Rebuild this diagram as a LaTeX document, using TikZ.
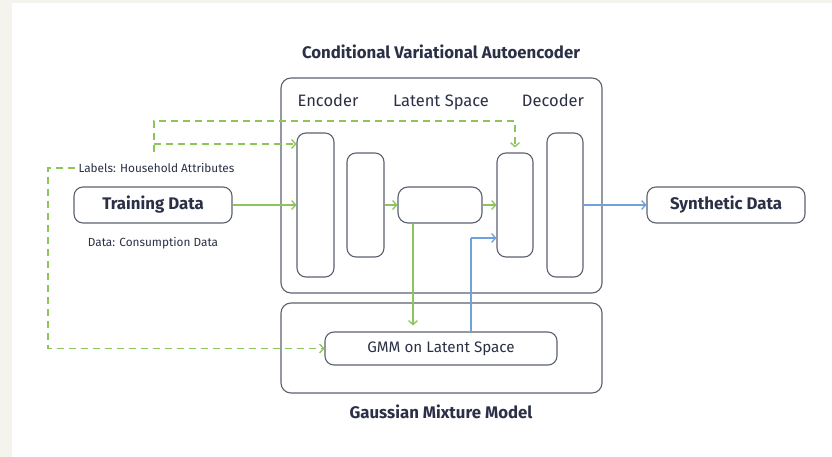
\documentclass[tikz,border=0pt]{standalone}
\usepackage{fontspec}
\setmainfont{Fira Sans}
\usetikzlibrary{arrows.meta}
\definecolor{pagegray}{HTML}{F4F3EE}
\definecolor{ink}{HTML}{2B3046}
\definecolor{frame}{HTML}{5C6170}
\definecolor{leaf}{HTML}{8CC55A}
\definecolor{sky}{HTML}{6FA2DC}
\tikzset{
  x=1pt, y=-1pt,
  panel/.style={draw=frame, line width=1.1pt, rounded corners=10pt},
  block/.style={draw=frame, line width=1.1pt, rounded corners=9pt, fill=white, inner sep=0pt},
  databox/.style={block, minimum width=158pt, minimum height=36pt, font=\fontsize{16.8}{20}\selectfont\bfseries, text=ink},
  caption/.style={font=\fontsize{11.8}{14}\selectfont, text=ink},
  heading/.style={font=\fontsize{16.8}{20}\selectfont\bfseries, text=ink},
  stage/.style={font=\fontsize{16.5}{20}\selectfont, text=ink, anchor=base},
  flow/.style={draw=leaf, line width=1.3pt, -{Straight Barb[length=4pt,width=9pt]}},
  cond/.style={flow, dash pattern=on 7pt off 5pt},
  gen/.style={draw=sky, line width=1.3pt, -{Straight Barb[length=4pt,width=9pt]}},
}
\begin{document}
\begin{tikzpicture}
% page
\fill[pagegray] (0,0) rectangle (832,457);
\fill[white] (12,3) rectangle (832,457);
\useasboundingbox (0,0) rectangle (832,457);

% titles
\node[heading] (cvaetitle) at (441,52) {Conditional Variational Autoencoder};
\node[heading] (gmmtitle) at (441,412) {Gaussian Mixture Model};

% group panels
\draw[panel] (281,78) rectangle (602,293);
\draw[panel] (281,303) rectangle (602,393);

% stage labels, sharing one baseline
\node[stage] (enclabel) at (328,107) {Encoder};
\node[stage] (latlabel) at (441,107) {Latent Space};
\node[stage] (declabel) at (553,107) {Decoder};

% network layers
\node[block, minimum width=37pt, minimum height=144pt] (enc1) at (315.5,205) {};
\node[block, minimum width=37pt, minimum height=104pt] (enc2) at (365.5,205) {};
\node[block, minimum width=84pt, minimum height=36pt, rounded corners=10pt] (latent) at (440,205) {};
\node[block, minimum width=36pt, minimum height=104pt] (dec1) at (515,205) {};
\node[block, minimum width=36pt, minimum height=144pt] (dec2) at (565,205) {};

% GMM
\node[block, minimum width=232pt, minimum height=33pt, font=\fontsize{15.2}{18}\selectfont, text=ink] (gmm) at (441,348.5) {GMM on Latent Space};

% data nodes
\node[databox] (train) at (153,205) {Training Data};
\node[databox] (synth) at (726,205) {Synthetic Data};
\node[caption, anchor=west] (labels) at (75,168) {Labels: Household Attributes};
\node[caption] (consumption) at (153,243) {Data: Consumption Data};

% main data flow
\draw[flow] (train.east) -- (enc1.west);
\draw[flow] (enc2.east) -- (latent.west);
\draw[flow] (latent.east) -- (dec1.west);
\coordinate (drop) at (413,0);
\draw[flow] (latent.south -| drop) -- ([yshift=6pt]gmm.north -| drop);

% sampling path
\coordinate (bend) at (471,238);
\draw[gen, -] (gmm.north -| bend) -- (bend);
\draw[gen] (bend) -- (bend -| dec1.west);
\draw[gen] (dec2.east) -- (synth.west);

% conditioning labels
\coordinate (condsplit) at (154,144);
\coordinate (condtop) at (154,121);
\draw[cond] (labels.west) -- ++(-27,0) |- (gmm.west);
\draw[cond] (154,152) -- (condtop) -| ([yshift=5pt]dec1.north);
\draw[cond] (condsplit) -- (condsplit -| enc1.west);
\end{tikzpicture}
\end{document}
